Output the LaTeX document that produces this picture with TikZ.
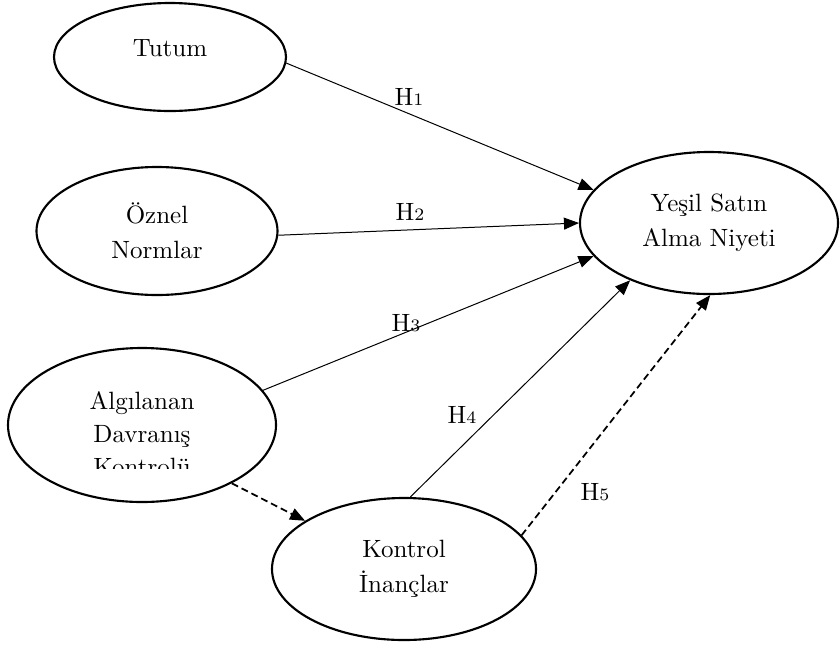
\documentclass[tikz,border=0pt]{standalone}
\usetikzlibrary{shapes.geometric,arrows.meta}
\begin{document}
\begin{tikzpicture}[x=0.4pt,y=-0.4pt,
    latent/.style={ellipse,draw,line width=0.85pt,inner sep=0pt,align=center,
      font=\fontsize{10}{14}\selectfont},
    txt/.style={inner sep=0pt,align=center,font=\fontsize{10}{13.2}\selectfont},
    link/.style={line width=0.4pt,-{Triangle[length=6pt,width=4.8pt]}},
    dlink/.style={line width=0.7pt,dash pattern=on 2.8pt off 1.6pt,
      -{Triangle[length=6pt,width=4.8pt]}},
    hyp/.style={inner sep=0pt,font=\fontsize{10}{12}\selectfont}]
    \useasboundingbox (0,0) rectangle (840,648);
    % constructs
    \node[latent,minimum width=92.8pt,minimum height=43.2pt] (tutum) at (170,57) {};
    \node[txt] (tutumtxt) at (170,48) {Tutum};
    \node[latent,minimum width=96.4pt,minimum height=51.2pt] (oznel) at (157,231) {Öznel\\Normlar};
    \node[latent,minimum width=103.2pt,minimum height=56.8pt] (niyet) at (709,223) {Yeşil Satın\\Alma Niyeti};
    \node[latent,minimum width=107.2pt,minimum height=61.6pt] (adk) at (142,425) {};
    \begin{scope}
        \clip (0,380) rectangle (300,468);
        \node[txt] (adktxt) at (142,434) {Algılanan\\Davranış\\Kontrolü};
    \end{scope}
    \node[latent,minimum width=105.6pt,minimum height=56.8pt] (inanc) at (404,569) {Kontrol\\İnançlar};
    % paths
    \draw[link] (tutum.-3) -- (niyet.164);
    \draw[link] (oznel.-2) -- (niyet.180);
    \draw[link] (adk.16) -- (niyet.196);
    \draw[link] (inanc.85) -- (niyet.216);
    \draw[dlink] (inanc.16) -- (niyet.-89);
    \draw[dlink] (adk.-33) -- (inanc.154);
    % hypotheses
    \node[hyp] (h1) at (409,97) {H{\scriptsize 1}};
    \node[hyp] (h2) at (410,212) {H{\scriptsize 2}};
    \node[hyp] (h3) at (406,323) {H{\scriptsize 3}};
    \node[hyp] (h4) at (462,415) {H{\scriptsize 4}};
    \node[hyp] (h5) at (595,492) {H{\scriptsize 5}};
\end{tikzpicture}
\end{document}
